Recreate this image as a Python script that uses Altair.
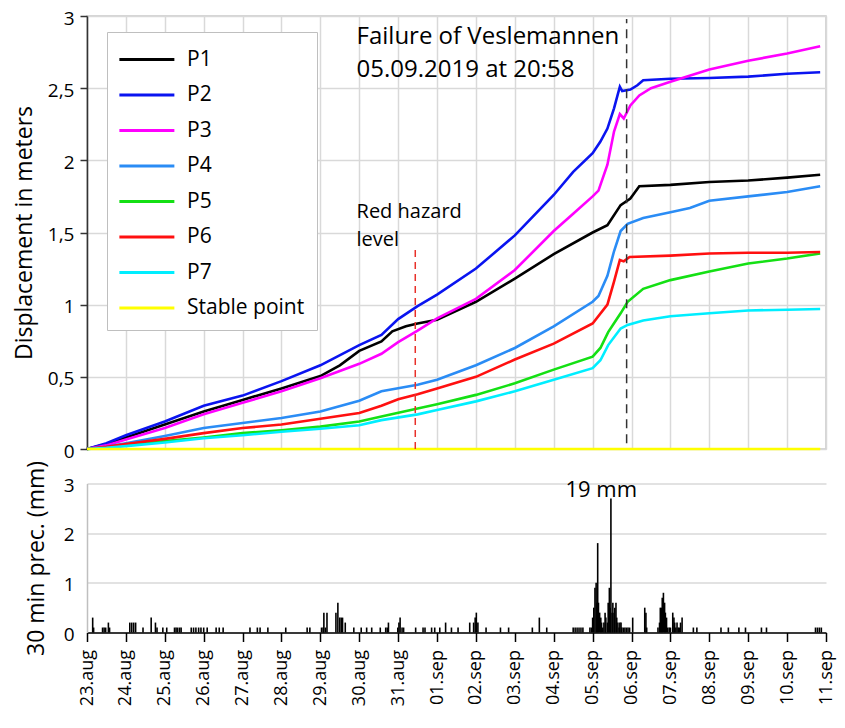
import json
import pandas as pd
import altair as alt

FONT = "Open Sans"

# ---------------- data ----------------
tick_labels = ["23.aug", "24.aug", "25.aug", "26.aug", "27.aug", "28.aug", "29.aug",
               "30.aug", "31.aug", "01.sep", "02.sep", "03.sep", "04.sep", "05.sep",
               "06.sep", "07.sep", "08.sep", "09.sep", "10.sep", "11.sep"]

series_names = ["P1", "P2", "P3", "P4", "P5", "P6", "P7", "Stable point"]
series_colors = ["#000000", "#0a14f0", "#ff00ff", "#2a8cf5", "#14e014", "#ff1010", "#00eeff", "#ffff00"]

# days since 23.aug 00:00
p1_day = [0, 0.5, 1, 2, 3, 4, 5, 6, 6.5, 7, 7.57, 7.85, 8.2, 8.5, 9, 10, 11, 12, 13, 13.38, 13.72, 13.97, 14.2, 15, 16, 17, 18, 18.85]
p1_val = [0, 0.035, 0.08, 0.17, 0.26, 0.34, 0.42, 0.505, 0.58, 0.68, 0.745, 0.815, 0.85, 0.87, 0.895, 1.02, 1.18, 1.35, 1.50, 1.55, 1.69, 1.735, 1.82, 1.83, 1.85, 1.86, 1.88, 1.90]

p2_day = [0, 0.5, 1, 2, 3, 4, 5, 6, 7, 7.57, 8, 8.5, 9, 10, 11, 12, 12.5, 13, 13.2, 13.38, 13.55, 13.7, 13.76, 13.97, 14.15, 14.3, 15, 16, 17, 18, 18.85]
p2_val = [0, 0.04, 0.095, 0.19, 0.30, 0.37, 0.47, 0.58, 0.72, 0.79, 0.90, 0.99, 1.07, 1.25, 1.48, 1.76, 1.92, 2.05, 2.13, 2.22, 2.36, 2.51, 2.48, 2.49, 2.52, 2.555, 2.565, 2.57, 2.58, 2.60, 2.61]

p3_day = [0, 0.5, 1, 2, 3, 4, 5, 6, 7, 7.57, 8, 8.5, 9, 10, 11, 12, 12.5, 13, 13.15, 13.38, 13.55, 13.7, 13.8, 13.97, 14.2, 14.5, 15, 16, 17, 18, 18.85]
p3_val = [0, 0.025, 0.065, 0.145, 0.24, 0.32, 0.40, 0.49, 0.59, 0.66, 0.74, 0.82, 0.905, 1.04, 1.24, 1.51, 1.63, 1.75, 1.79, 1.97, 2.20, 2.32, 2.29, 2.38, 2.45, 2.50, 2.545, 2.63, 2.69, 2.74, 2.79]

p4_day = [0, 0.5, 1, 2, 3, 4, 5, 6, 7, 7.57, 8.5, 9, 10, 11, 12, 13, 13.15, 13.38, 13.55, 13.72, 13.9, 14.3, 15, 15.5, 16, 17, 18, 18.85]
p4_val = [0, 0.015, 0.04, 0.09, 0.145, 0.18, 0.215, 0.26, 0.335, 0.40, 0.445, 0.48, 0.58, 0.70, 0.85, 1.02, 1.06, 1.20, 1.37, 1.51, 1.56, 1.60, 1.64, 1.67, 1.72, 1.75, 1.78, 1.82]

p5_day = [0, 0.5, 1, 2, 3, 4, 5, 6, 7, 7.57, 8.5, 9, 10, 11, 12, 13, 13.2, 13.4, 13.72, 13.9, 14.3, 15, 16, 17, 18, 18.85]
p5_val = [0, 0.01, 0.03, 0.055, 0.08, 0.11, 0.13, 0.155, 0.19, 0.225, 0.28, 0.31, 0.375, 0.455, 0.55, 0.64, 0.70, 0.81, 0.94, 1.02, 1.11, 1.17, 1.23, 1.285, 1.32, 1.355]

p6_day = [0, 0.5, 1, 2, 3, 4, 5, 6, 7, 7.57, 8, 8.5, 9, 10, 11, 12, 13, 13.38, 13.55, 13.7, 13.8, 13.95, 15, 16, 17, 18, 18.85]
p6_val = [0, 0.015, 0.035, 0.07, 0.11, 0.145, 0.17, 0.21, 0.25, 0.30, 0.345, 0.38, 0.42, 0.50, 0.62, 0.73, 0.87, 1.00, 1.16, 1.31, 1.30, 1.33, 1.34, 1.355, 1.36, 1.36, 1.365]

p7_day = [0, 0.5, 1, 2, 3, 4, 5, 6, 7, 7.57, 8.5, 9, 10, 11, 12, 13, 13.2, 13.4, 13.72, 13.9, 14.3, 15, 16, 17, 18, 18.85]
p7_val = [0, 0.008, 0.02, 0.045, 0.075, 0.095, 0.12, 0.14, 0.165, 0.20, 0.24, 0.27, 0.33, 0.40, 0.48, 0.56, 0.615, 0.72, 0.835, 0.86, 0.89, 0.92, 0.94, 0.96, 0.965, 0.97]

stable_day = [0, 18.85]
stable_val = [0, 0]

# 30 min precipitation (mm); the 19 mm bar is drawn cut at 2.7 as in the original
prec_day = [0.146, 0.17, 0.40, 0.44, 0.48, 0.55, 0.58, 1.10, 1.15, 1.20, 1.25, 1.44, 1.65, 1.76, 1.80,
            1.95, 2.05, 2.25, 2.29, 2.33, 2.38, 2.42, 2.68, 2.74, 2.80, 2.87, 2.93, 3.0, 3.09, 3.32,
            3.40, 3.50, 4.19, 4.38, 4.45, 4.65, 5.11, 5.66, 5.73, 6.03, 6.07, 6.09, 6.13, 6.17, 6.40,
            6.45, 6.50, 6.54, 6.57, 6.64, 6.86, 7.05, 7.19, 7.32, 7.54, 7.68, 7.72, 7.75, 7.99, 8.02,
            8.05, 8.10, 8.14, 8.45, 8.64, 8.69, 8.86, 8.94, 9.07, 9.22, 9.37, 9.54, 9.84, 9.94, 9.98,
            10.01, 10.05, 10.26, 10.63, 10.84, 11.45, 11.63, 11.82, 12.50, 12.55, 12.60, 12.65, 12.70,
            12.75, 12.93, 12.97, 13.0, 13.03, 13.06, 13.09, 13.11, 13.13, 13.15, 13.18, 13.21, 13.23,
            13.26, 13.29, 13.32, 13.34, 13.38, 13.40, 13.43, 13.45, 13.47, 13.50, 13.52, 13.55, 13.57,
            13.60, 13.62, 13.65, 13.68, 13.70, 13.73, 13.75, 13.79, 13.83, 13.87, 13.91, 13.95, 14.03,
            14.34, 14.37, 14.39, 14.68, 14.72, 14.74, 14.77, 14.79, 14.82, 14.85, 14.87, 14.90, 14.93,
            14.97, 15.0, 15.06, 15.09, 15.11, 15.14, 15.17, 15.20, 15.23, 15.26, 15.30, 15.59, 15.68,
            16.30, 16.49, 16.76, 16.93, 17.34, 17.47, 18.73, 18.78, 18.83, 18.88]
prec_mm = [0.3, 0.1, 0.1, 0.1, 0.1, 0.2, 0.1, 0.2, 0.2, 0.2, 0.2, 0.1, 0.3, 0.2, 0.1,
           0.1, 0.1, 0.1, 0.1, 0.1, 0.1, 0.1, 0.1, 0.1, 0.1, 0.1, 0.1, 0.1, 0.1, 0.1,
           0.1, 0.1, 0.1, 0.1, 0.1, 0.1, 0.1, 0.1, 0.1, 0.1, 0.1, 0.4, 0.1, 0.4, 0.4,
           0.6, 0.3, 0.3, 0.3, 0.2, 0.1, 0.1, 0.1, 0.1, 0.1, 0.1, 0.1, 0.2, 0.1, 0.2,
           0.3, 0.1, 0.1, 0.1, 0.1, 0.1, 0.1, 0.1, 0.1, 0.2, 0.1, 0.1, 0.2, 0.2, 0.3,
           0.4, 0.2, 0.1, 0.1, 0.1, 0.1, 0.3, 0.1, 0.1, 0.1, 0.1, 0.1, 0.1,
           0.1, 0.1, 0.1, 0.3, 0.5, 0.9, 1.0, 0.6, 1.8, 0.6, 0.4, 0.3, 0.2,
           0.1, 0.2, 0.4, 0.3, 0.2, 0.6, 0.9, 0.5, 2.7, 0.4, 0.6, 0.4, 0.5,
           0.6, 0.3, 0.2, 0.1, 0.2, 0.2, 0.1, 0.1, 0.1, 0.1, 0.1, 0.1, 0.3,
           0.5, 0.4, 0.1, 0.1, 0.2, 0.5, 0.5, 0.7, 0.8, 0.6, 0.4, 0.3, 0.1,
           0.1, 0.1, 0.4, 0.3, 0.2, 0.1, 0.2, 0.1, 0.1, 0.2, 0.3, 0.1, 0.1,
           0.1, 0.1, 0.1, 0.1, 0.1, 0.1, 0.1, 0.1, 0.1, 0.1]

failure_day = 13.874      # 05.09.2019 20:58
hazard_day = 8.44         # red hazard level

# ---------------- tables ----------------
series_data = [(p1_day, p1_val), (p2_day, p2_val), (p3_day, p3_val), (p4_day, p4_val),
               (p5_day, p5_val), (p6_day, p6_val), (p7_day, p7_val), (stable_day, stable_val)]
frames = []
for name, (d, v) in zip(series_names, series_data):
    frames.append(pd.DataFrame({"day": d, "disp": v, "series": name}))
lines_df = pd.concat(frames, ignore_index=True)

prec_df = pd.DataFrame({"day": prec_day, "mm": prec_mm, "zero": 0.0})

notes_df = pd.DataFrame({
    "day": [6.93, 6.93],
    "disp": [2.806, 2.578],
    "text": ["Failure of Veslemannen", "05.09.2019 at 20:58"],
})
hazard_text_df = pd.DataFrame({
    "day": [6.93, 6.93],
    "disp": [1.603, 1.405],
    "text": ["Red hazard", "level"],
})
red_rule_df = pd.DataFrame({"day": [hazard_day], "y1": [0.0], "y2": [1.41]})
black_rule_df = pd.DataFrame({"day": [failure_day], "y1": [0.04], "y2": [2.98]})
label19_df = pd.DataFrame({"day": [13.22], "mm": [2.72], "text": ["19 mm"]})

# ---------------- scales / axes ----------------
x_scale = alt.Scale(domain=[0, 19], nice=False, zero=False)
GRID = "#d9d9d9"

top_x_axis = alt.Axis(values=list(range(20)), labels=False, ticks=False, domain=False,
                      grid=True, gridColor=GRID, gridWidth=1.5, title=None)
top_y_axis = alt.Axis(
    values=[i * 0.25 for i in range(13)], format="~g",
    labelExpr="datum.value % 0.5 == 0 ? replace(datum.label, '.', ',') : ''",
    labelOverlap=False, tickSize=7, tickColor="#333333", tickWidth=1.5,
    domainColor="#333333", domainWidth=1.5, labelPadding=6, labelFontSize=19,
    labelColor="black", labelFont=FONT, labelOffset=2,
    grid=True, gridWidth=1.5,
    gridColor={"condition": {"test": "datum.value % 0.5 == 0", "value": GRID}, "value": "rgba(0,0,0,0)"},
    title="Displacement in meters", titleFontSize=23, titleFontWeight="normal",
    titleColor="black", titleFont=FONT, titlePadding=11,
)

bot_x_axis = alt.Axis(
    values=list(range(20)), labelExpr=json.dumps(tick_labels) + "[datum.value]",
    labelAngle=-90, labelFontSize=18, labelColor="black", labelFont=FONT,
    labelOverlap=False, labelFlush=False, labelPadding=8,
    tickSize=9, tickColor="black", tickWidth=1.5,
    domainColor="black", domainWidth=1.5, grid=False, title=None,
)
bot_y_axis = alt.Axis(
    values=[i * 0.5 for i in range(7)], format="~g",
    labelExpr="datum.value % 1 == 0 ? datum.label : ''",
    labelOverlap=False, ticks=False, labelPadding=13, labelFontSize=19,
    labelColor="black", labelFont=FONT, labelOffset=1.5,
    domainColor="#bfbfbf", domainWidth=1.5,
    grid=True, gridWidth=1.5,
    gridColor={"condition": {"test": "datum.value % 1 == 0", "value": GRID}, "value": "#bfbfbf"},
    gridDash={"condition": {"test": "datum.value % 1 == 0", "value": []}, "value": [6, 2000]},
    title="30 min prec. (mm)", titleFontSize=23, titleFontWeight="normal",
    titleColor="black", titleFont=FONT, titlePadding=15,
)

# ---------------- top panel ----------------
x_top = alt.X("day:Q", scale=x_scale, axis=top_x_axis)
y_top_scale = alt.Scale(domain=[0, 3], nice=False)

lines = alt.Chart(lines_df).mark_line(strokeWidth=2.6).encode(
    x=x_top,
    y=alt.Y("disp:Q", scale=y_top_scale, axis=top_y_axis),
    color=alt.Color("series:N", sort=series_names,
                    scale=alt.Scale(domain=series_names, range=series_colors),
                    legend=alt.Legend(
                        orient="none", legendX=20, legendY=16, title=None,
                        fillColor="white", strokeColor="#bfbfbf", padding=12,
                        symbolType="M-1.1,0H2.9", symbolSize=756, symbolStrokeWidth=3,
                        labelFont=FONT, labelFontSize=21, labelColor="black",
                        labelOffset=37, rowPadding=9.5,
                    )),
)

red_rule = alt.Chart(red_rule_df).mark_rule(color="#e8302a", strokeWidth=1.5, strokeDash=[7, 5]).encode(
    x=alt.X("day:Q", scale=x_scale, axis=top_x_axis), y="y1:Q", y2="y2:Q")
black_rule = alt.Chart(black_rule_df).mark_rule(color="#333333", strokeWidth=1.5, strokeDash=[9, 6]).encode(
    x=alt.X("day:Q", scale=x_scale, axis=top_x_axis), y="y1:Q", y2="y2:Q")

notes = alt.Chart(notes_df).mark_text(align="left", baseline="alphabetic", fontSize=24,
                                      font=FONT, color="black").encode(
    x=alt.X("day:Q", scale=x_scale, axis=top_x_axis), y="disp:Q", text="text:N")
hazard_text = alt.Chart(hazard_text_df).mark_text(align="left", baseline="alphabetic", fontSize=20,
                                                  font=FONT, color="black").encode(
    x=alt.X("day:Q", scale=x_scale, axis=top_x_axis), y="disp:Q", text="text:N")

top = alt.layer(lines, red_rule, black_rule, notes, hazard_text).properties(
    width=739, height=433, view=alt.ViewBackground(stroke="#c8c8c8", strokeWidth=1.5))

# ---------------- bottom panel ----------------
x_bot = alt.X("day:Q", scale=x_scale, axis=bot_x_axis)
bars = alt.Chart(prec_df).mark_rule(color="black", strokeWidth=1.6).encode(
    x=x_bot,
    y=alt.Y("mm:Q", scale=alt.Scale(domain=[0, 3], nice=False), axis=bot_y_axis),
    y2="zero:Q",
)
label19 = alt.Chart(label19_df).mark_text(align="center", baseline="alphabetic", fontSize=22,
                                          font=FONT, color="black").encode(
    x=x_bot, y="mm:Q", text="text:N")

bottom = alt.layer(bars, label19).properties(width=739, height=149)

chart = alt.vconcat(top, bottom, spacing=-2.5).properties(
    padding={"left": 4, "top": 0, "right": 2, "bottom": 0}
).configure(font=FONT).configure_view(stroke=None)

chart.save("out.html", embed_options={"renderer": "svg", "actions": False})
